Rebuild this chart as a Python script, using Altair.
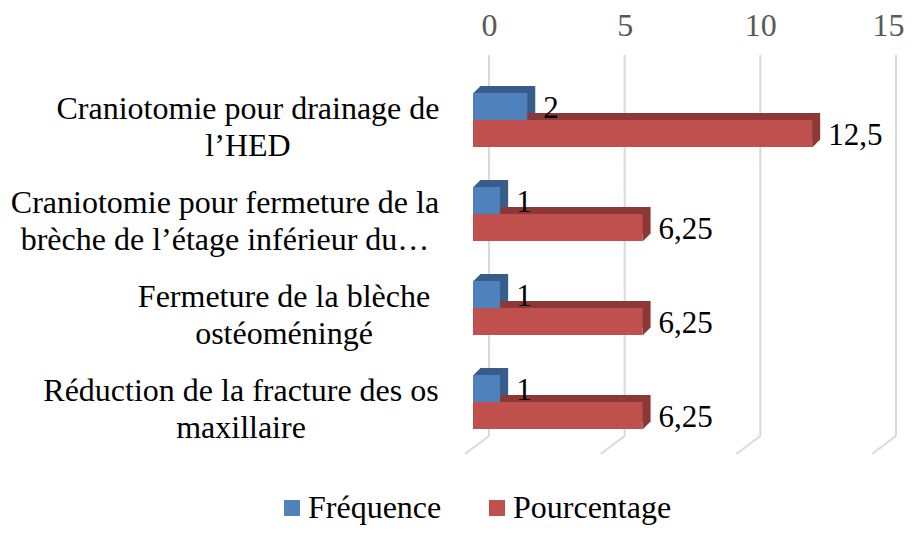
import altair as alt
import pandas as pd

# ---------------- data ----------------
categories = [
    "Craniotomie pour drainage de l’HED",
    "Craniotomie pour fermeture de la brèche de l’étage inférieur du…",
    "Fermeture de la blèche ostéoméningé",
    "Réduction de la fracture des os maxillaire",
]
category_lines = [
    ["Craniotomie pour drainage de", "l’HED"],
    ["Craniotomie pour fermeture de la", "brèche de l’étage inférieur du…"],
    ["Fermeture de la blèche", "ostéoméningé"],
    ["Réduction de la fracture des os", "maxillaire"],
]
series = ["Fréquence", "Pourcentage"]
frequence = [2, 1, 1, 1]
pourcentage = [12.5, 6.25, 6.25, 6.25]
x_ticks = [0, 5, 10, 15]

# ---------------- layout / style ----------------
label_center_px = [-241, -264, -205, -248]   # centre of each category label block (px from plot left)
FONT = "Liberation Serif"
BLUE, BLUE_DARK = "#4F81BD", "#385D8A"
RED, RED_DARK = "#C0504D", "#8C3836"
GRID = "#D9D9D9"
TRI_TOP_LEFT = "M -1 1 L 1 -1 L 1 1 Z"
TRI_BOTTOM_RIGHT = "M -1 -1 L 1 -1 L -1 1 Z"

rows = []
for c, f, p in zip(categories, frequence, pourcentage):
    rows.append({"category": c, "series": series[0], "value": f,
                 "label": str(f).replace(".", ",")})
    rows.append({"category": c, "series": series[1], "value": p,
                 "label": str(p).replace(".", ",")})
df = pd.DataFrame(rows)
ticks_df = pd.DataFrame({"tick": x_ticks})

x_scale = alt.Scale(domain=[0, 15], nice=False, zero=True)
x_axis = alt.Axis(orient="top", values=x_ticks, title=None, grid=False, domain=False,
                  ticks=False, labelFont=FONT, labelFontSize=32, labelColor="#595959",
                  labelPadding=31, labelFlush=True, labelFlushOffset=8)
y_enc = alt.Y("category:N", sort=categories,
              scale=alt.Scale(domain=categories, paddingInner=0, paddingOuter=0), axis=None)


def X(field):
    return alt.X(field, type="quantitative", scale=x_scale, axis=x_axis)


base = alt.Chart(df)

color_enc = alt.Color(
    "series:N",
    scale=alt.Scale(domain=series, range=[BLUE, RED]),
    legend=alt.Legend(orient="none", legendX=-213, legendY=419, direction="horizontal",
                      title=None, symbolType="square", symbolSize=256, symbolStrokeWidth=0,
                      labelFont=FONT, labelFontSize=32, labelColor="black",
                      columnPadding=39, labelOffset=0, padding=0),
)

grid_v = alt.Chart(ticks_df).mark_rule(color=GRID, strokeWidth=2).encode(
    x=X("tick"), y=alt.value(-18), y2=alt.value(363))
grid_s = alt.Chart(ticks_df).mark_rule(color=GRID, strokeWidth=2, x2Offset=-24).encode(
    x=X("tick"), x2=alt.X2("tick"), y=alt.value(363), y2=alt.value(381))

layers = [grid_v, grid_s]

offsets = {series[0]: -13.5, series[1]: 13.5}
darks = {series[0]: BLUE_DARK, series[1]: RED_DARK}

# back (depth) faces first
for s in series:
    sub = base.transform_filter(alt.datum.series == s)
    layers.append(
        sub.mark_bar(height=27, yOffset=offsets[s] - 7, xOffset=-8, x2Offset=-8, color=darks[s])
        .encode(x=X("value"), y=y_enc)
    )
    # bevel at the bottom-right of the side face
    layers.append(
        sub.mark_point(shape=TRI_BOTTOM_RIGHT, size=64, filled=True, opacity=1,
                       strokeWidth=0, color=darks[s], xOffset=-12,
                       yOffset=offsets[s] + 13.5 - 3.5)
        .encode(x=X("value"), y=y_enc)
    )
# bevel at the top-left of the top face (first series; the second is hidden)
layers.append(
    base.transform_filter(alt.datum.series == series[0])
    .transform_calculate(zero="0")
    .mark_point(shape=TRI_TOP_LEFT, size=64, filled=True, opacity=1, strokeWidth=0,
                color=darks[series[0]], xOffset=-12, yOffset=offsets[series[0]] - 13.5 - 3.5)
    .encode(x=X("zero"), y=y_enc)
)
# front faces
for s in series:
    layers.append(
        base.transform_filter(alt.datum.series == s)
        .mark_bar(height=27, yOffset=offsets[s], xOffset=-16, x2Offset=-16)
        .encode(x=X("value"), y=y_enc, color=color_enc)
    )
# value labels
for s in series:
    layers.append(
        base.transform_filter(alt.datum.series == s)
        .mark_text(align="left", baseline="middle", yOffset=offsets[s] + 2,
                   font=FONT, fontSize=31, color="black")
        .encode(x=X("value"), y=y_enc, text="label:N")
    )

# category labels (centred multi-line blocks)
for c, lines, lx in zip(categories, category_lines, label_center_px):
    cdf = pd.DataFrame({"category": [c], "lines": [lines]})
    layers.append(
        alt.Chart(cdf).mark_text(align="center", baseline="middle", font=FONT, fontSize=32,
                                 lineHeight=37, dy=-11.5, color="black")
        .encode(x=alt.value(lx), y=y_enc, text="lines")
    )

chart = (
    alt.layer(*layers)
    .properties(width=407, height=376,
                padding={"left": 481, "top": 65, "right": 8, "bottom": 76},
                autosize=alt.AutoSizeParams(type="none"))
    .configure_view(strokeWidth=0)
)

chart.save("out.html", embed_options={"renderer": "svg", "actions": False})
